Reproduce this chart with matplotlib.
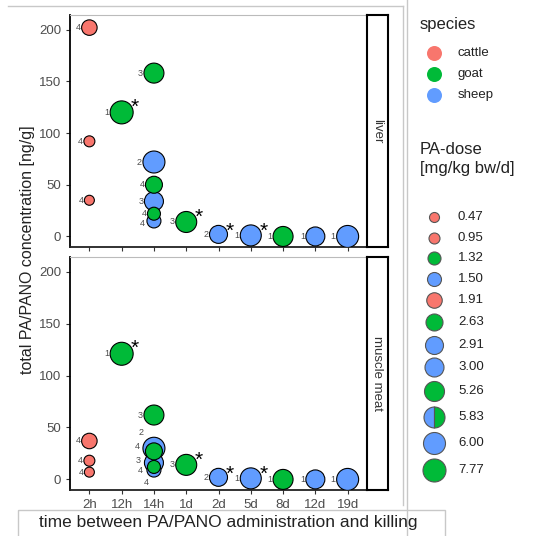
import matplotlib
matplotlib.use("Agg")
import matplotlib.pyplot as plt
import matplotlib.patches as mpatches
from matplotlib.lines import Line2D

plt.rcParams['font.family'] = ['Liberation Sans', 'DejaVu Sans']

# ---- data ----
times = ['2h', '12h', '14h', '1d', '2d', '5d', '8d', '12d', '19d']
species = ['cattle', 'goat', 'sheep']
species_colors = ['#F8766D', '#00BA38', '#619CFF']
dose_levels = [0.47, 0.95, 1.32, 1.50, 1.91, 2.63, 2.91, 3.00, 5.26, 5.83, 6.00, 7.77]
dose_species = ['cattle', 'cattle', 'goat', 'sheep', 'cattle', 'goat', 'sheep', 'sheep', 'goat', 'sheep/goat', 'sheep', 'goat']

pt_time = ['2h', '2h', '2h', '12h', '14h', '14h', '14h', '14h', '14h', '14h',
           '1d', '2d', '5d', '8d', '12d', '19d']
pt_species = ['cattle', 'cattle', 'cattle', 'goat', 'sheep', 'sheep', 'sheep', 'goat', 'goat', 'goat',
              'goat', 'sheep', 'sheep', 'goat', 'sheep', 'sheep']
pt_dose = [1.91, 0.95, 0.47, 7.77, 6.00, 3.00, 1.50, 5.26, 2.63, 1.32,
           5.83, 2.91, 5.83, 5.26, 3.00, 6.00]
pt_n = [4, 4, 4, 1, 2, 3, 4, 3, 4, 4, 3, 2, 1, 1, 1, 1]
pt_sig = [False, False, False, True, False, False, False, False, False, False,
          True, True, True, False, False, False]
liver = [202, 92, 35, 120, 72, 34, 15, 158, 50, 22, 14, 2, 1, 0, 0, 0]
muscle = [37, 18, 7, 121, 30, 16, 9, 62, 27, 12, 14, 2, 1, 0, 0, 0]

# ---- style ----
W, H = 533, 536
diam_px = [10, 11, 13, 14, 15.5, 17, 18, 19, 20, 21, 22, 23]  # marker diameter per dose level
gray_txt = '#4D4D4D'

def box(l, t, r, b):
    return [l / W, 1 - b / H, (r - l) / W, (b - t) / H]

fig = plt.figure(figsize=(W / 100, H / 100), dpi=100)

# background layer in pixel coordinates (frames + legend)
bg = fig.add_axes([0, 0, 1, 1])
bg.set_xlim(0, W)
bg.set_ylim(H, 0)
bg.axis('off')

col_of = dict(zip(species, species_colors))
diam_of = dict(zip(dose_levels, diam_px))

# label offsets (pixels) for crowded points: (panel, index) -> (dx, dy, segment)
label_off = {
    (0, 6): (-12, -3, False),
    (1, 4): (-13, 16, True),
    (1, 8): (-17, 5, False),
    (1, 5): (-16, 2, False),
    (1, 9): (-14, -4, False),
    (1, 6): (-8, -12, True),
}

panels = [(liver, 'liver', (15, 247)), (muscle, 'muscle meat', (257, 490))]
for p, (vals, name, (top, bot)) in enumerate(panels):
    ax = fig.add_axes(box(70, top, 367, bot))
    xs = [times.index(t) for t in pt_time]
    cols = [col_of[s] for s in pt_species]
    sizes = [(diam_of[d] * 0.72) ** 2 for d in pt_dose]
    ax.scatter(xs, vals, s=sizes, c=cols, edgecolors='black', linewidths=0.8, zorder=3)
    for i, (x, y) in enumerate(zip(xs, vals)):
        r = diam_of[pt_dose[i]] / 2
        dx, dy, seg = label_off.get((p, i), (-(r + 3.5), 0, False))
        ap = None
        if seg:
            ap = dict(arrowstyle='-', color=gray_txt, lw=0.5, shrinkA=1, shrinkB=r * 0.72)
        ax.annotate(str(pt_n[i]), (x, y), xytext=(dx, dy), textcoords='offset pixels',
                    ha='center', va='center', fontsize=6.5, color=gray_txt,
                    arrowprops=ap, zorder=2)
        if pt_sig[i]:
            ax.annotate('*', (x, y), xytext=(r + 2, r - 6), textcoords='offset pixels',
                        ha='center', va='center', fontsize=15, color='black', zorder=4)
    ax.set_xlim(-0.6, len(times) - 0.4)
    ax.set_ylim(-10.2, 214.2)
    ax.set_yticks([0, 50, 100, 150, 200])
    ax.set_xticks(range(len(times)))
    if p == 1:
        ax.set_xticklabels(times)
    else:
        ax.set_xticklabels([])
    ax.tick_params(axis='both', labelsize=9.5, colors='#333333', labelcolor=gray_txt,
                   length=3, width=0.8)
    ax.spines['left'].set_color('black')
    ax.spines['left'].set_linewidth(1.3)
    ax.spines['bottom'].set_color('#222222')
    ax.spines['bottom'].set_linewidth(1.3)
    ax.spines['top'].set_color('#BBBBBB')
    ax.spines['top'].set_linewidth(0.8)
    ax.spines['right'].set_visible(False)

    # strip
    st = fig.add_axes(box(367, top, 388, bot))
    st.set_xticks([])
    st.set_yticks([])
    for sp in st.spines.values():
        sp.set_color('black')
        sp.set_linewidth(1.5)
    st.text(0.5, 0.5, name, rotation=-90, ha='center', va='center',
            fontsize=9.5, color='#333333', transform=st.transAxes)

fig.text(28 / W, 1 - 250 / H, 'total PA/PANO concentration [ng/g]', rotation=90,
         ha='center', va='center', fontsize=11.5, color='#222222')

# outer frame lines and x title box
bg.add_line(Line2D([8, 403], [6, 6], color='#C8C8C8', lw=1))
bg.add_line(Line2D([403, 403], [6, 505], color='#C8C8C8', lw=1))
bg.add_line(Line2D([407, 407], [0, H], color='#C8C8C8', lw=1))
bg.add_patch(mpatches.Rectangle((18, 510), 427, 30, fill=False, edgecolor='#C8C8C8', lw=1))
bg.text(228, 523, 'time between PA/PANO administration and killing', ha='center', va='center',
        fontsize=12.5, color='#222222')

# species legend
bg.text(420, 24, 'species', ha='left', va='center', fontsize=12, color='#222222')
for k, (s, c) in enumerate(zip(species, species_colors)):
    y = 53 + k * 20.8
    bg.scatter([434], [y], s=(15 * 0.72) ** 2, c=c, linewidths=0)
    bg.text(458, y, s, ha='left', va='center', fontsize=9.5, color='#222222')

# dose legend
bg.text(420, 150, 'PA-dose', ha='left', va='center', fontsize=12, color='#222222')
bg.text(420, 168, '[mg/kg bw/d]', ha='left', va='center', fontsize=12, color='#222222')
dose_y = [217, 238, 258, 279, 300, 322, 345, 367, 391, 417, 443, 470]
for d, sp, y, dm in zip(dose_levels, dose_species, dose_y, diam_px):
    ms = dm * 0.72
    if '/' in sp:
        bg.plot([434], [y], marker='o', ms=ms, fillstyle='left', markerfacecolor=col_of['sheep'],
                markerfacecoloralt=col_of['goat'], markeredgecolor='#555555', mew=0.8, ls='none')
    else:
        bg.plot([434], [y], marker='o', ms=ms, markerfacecolor=col_of[sp],
                markeredgecolor='#555555', mew=0.8, ls='none')
    bg.text(458, y, f'{d:.2f}', ha='left', va='center', fontsize=9.5, color='#222222')

fig.savefig('out.png', dpi=100)
